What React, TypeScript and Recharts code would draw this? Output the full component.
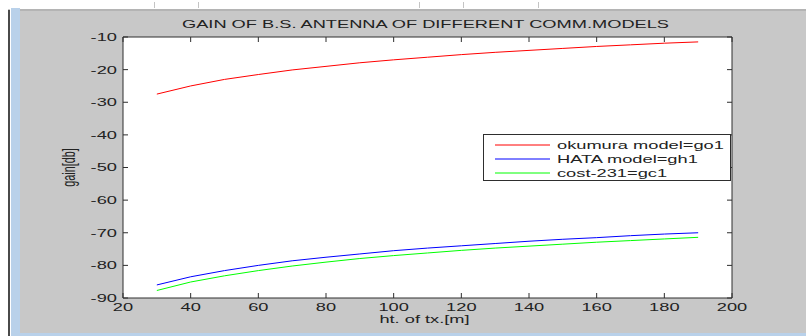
import {
  LineChart,
  Line,
  XAxis,
  YAxis,
  CartesianGrid,
  Legend,
} from 'recharts';

// transmitter height [m]
const heights = [30, 40, 50, 60, 70, 80, 90, 100, 110, 120, 130, 140, 150, 160, 170, 180, 190];
const okumura = [-27.5, -25.0, -23.0, -21.5, -20.1, -19.0, -17.9, -17.0, -16.2, -15.4, -14.7, -14.1, -13.5, -12.9, -12.4, -11.9, -11.5];
const hata = [-86.0, -83.5, -81.6, -80.0, -78.6, -77.5, -76.5, -75.5, -74.7, -74.0, -73.3, -72.6, -72.0, -71.5, -70.9, -70.4, -70.0];
const cost231 = [-87.7, -85.1, -83.2, -81.6, -80.2, -79.0, -77.9, -77.0, -76.2, -75.4, -74.7, -74.1, -73.5, -72.9, -72.4, -71.9, -71.4];

const xTicks = [20, 40, 60, 80, 100, 120, 140, 160, 180, 200];
const yTicks = [-90, -80, -70, -60, -50, -40, -30, -20, -10];

const seriesNames = ['okumura model=go1', 'HATA model=gh1', 'cost-231=gc1'];
const seriesKeys = ['go1', 'gh1', 'gc1'];
const seriesColors = ['#ff0000', '#0000ff', '#00ff00'];

const data = heights.map((h, i) => ({ h, go1: okumura[i], gh1: hata[i], gc1: cost231[i] }));

// the screenshot is stretched sideways, so text is too
const SX = 1.69;
const FS = 10.8;
const FONT = '"Liberation Sans", Arial, sans-serif';
const INK = '#222';
const AXIS = '#2e2e2e';

const XTick = (props: any) => {
  const { x, y, payload } = props;
  return (
    <text transform={`translate(${x},${y}) scale(${SX},1)`} textAnchor="middle" dy="0.71em"
      fontSize={FS} fontFamily={FONT} fill={INK}>
      {payload.value}
    </text>
  );
};

const YTick = (props: any) => {
  const { x, y, payload } = props;
  return (
    <text transform={`translate(${x},${y}) scale(${SX},1)`} textAnchor="end" dy="0.36em"
      fontSize={FS} fontFamily={FONT} fill={INK}>
      {payload.value}
    </text>
  );
};

const NoTick = () => <g />;

const TitleLabel = (props: any) => {
  const { viewBox } = props;
  const cx = viewBox.x + viewBox.width / 2 - 2;
  return (
    <text transform={`translate(${cx},${viewBox.y - 8}) scale(${SX},1)`} textAnchor="middle"
      fontSize={FS} fontFamily={FONT} fill={INK}>
      GAIN OF B.S. ANTENNA OF DIFFERENT COMM.MODELS
    </text>
  );
};

const XLabel = (props: any) => {
  const { viewBox } = props;
  const cx = viewBox.x + viewBox.width / 2 - 3;
  return (
    <text transform={`translate(${cx},${viewBox.y + 25}) scale(${SX},1)`} textAnchor="middle"
      fontSize={FS} fontFamily={FONT} fill={INK}>
      ht. of tx.[m]
    </text>
  );
};

const YLabel = (props: any) => {
  const { viewBox } = props;
  const cy = viewBox.y + viewBox.height / 2;
  return (
    <text transform={`translate(${viewBox.x + 12},${cy}) scale(${SX},1) rotate(-90)`} textAnchor="middle"
      fontSize={FS} fontFamily={FONT} fill={INK}>
      gain[db]
    </text>
  );
};

const LegendBox = () => (
  <div style={{
    position: 'relative', width: 248, height: 47, boxSizing: 'border-box',
    border: `1px solid ${AXIS}`, background: '#fff',
  }}>
    {seriesNames.map((name, i) => (
      <div key={name} style={{ position: 'absolute', left: 0, top: 3 + i * 14, height: 14, width: 246 }}>
        <svg width={70} height={14} style={{ position: 'absolute', left: 0, top: 0 }}>
          <line x1={11} x2={66} y1={7} y2={7} stroke={seriesColors[i]} strokeWidth={1} />
        </svg>
        <span style={{
          position: 'absolute', left: 73, top: 0, lineHeight: '14px', whiteSpace: 'nowrap',
          fontFamily: FONT, fontSize: FS, color: INK,
          transform: `scaleX(${SX})`, transformOrigin: 'left center',
        }}>{name}</span>
      </div>
    ))}
  </div>
);

export default function App() {
  return (
    <div style={{ position: 'fixed', left: 0, top: 0, width: 806, height: 336, background: '#c8c8c8', overflow: 'hidden' }}>
      {/* window chrome */}
      <div style={{ position: 'absolute', left: 0, top: 0, width: 806, height: 9, background: '#fff' }} />
      <div style={{ position: 'absolute', left: 20, top: 9, width: 786, height: 2, background: '#b4b4b4' }} />
      <div style={{ position: 'absolute', left: 0, top: 0, width: 8, height: 336, background: '#fff' }} />
      <div style={{ position: 'absolute', left: 8, top: 10, width: 2, height: 326, background: '#4a4a4a' }} />
      <div style={{ position: 'absolute', left: 10, top: 0, width: 1, height: 336, background: '#fff' }} />
      <div style={{ position: 'absolute', left: 11, top: 8, width: 9, height: 328, background: '#b9d1ea' }} />
      <div style={{ position: 'absolute', left: 11, top: 333, width: 795, height: 3, background: '#b9d1ea' }} />
      {[154, 198, 419, 463, 538].map((x) => (
        <div key={x} style={{ position: 'absolute', left: x, top: 2, width: 1, height: 6, background: '#c4c4c4' }} />
      ))}

      <div style={{ position: 'absolute', left: 0, top: 0 }}>
        <LineChart width={806} height={336} data={data} margin={{ top: 36, right: 73, bottom: 8, left: 63 }}>
          <CartesianGrid horizontal={false} vertical={false} fill="#fff" />
          <XAxis xAxisId="b" dataKey="h" type="number" domain={[20, 200]} ticks={xTicks} allowDataOverflow
            height={30} tickSize={-5} tickMargin={10} tick={XTick}
            axisLine={{ stroke: AXIS }} tickLine={{ stroke: AXIS }} label={XLabel} />
          <XAxis xAxisId="t" orientation="top" dataKey="h" type="number" domain={[20, 200]} ticks={xTicks}
            allowDataOverflow height={1} tickSize={-5} tick={NoTick}
            axisLine={{ stroke: AXIS }} tickLine={{ stroke: AXIS }} label={TitleLabel} />
          <YAxis yAxisId="l" type="number" domain={[-90, -10]} ticks={yTicks} allowDataOverflow
            width={60} tickSize={-5} tickMargin={11} tick={YTick}
            axisLine={{ stroke: AXIS }} tickLine={{ stroke: AXIS }} label={YLabel} />
          <YAxis yAxisId="r" orientation="right" type="number" domain={[-90, -10]} ticks={yTicks}
            allowDataOverflow width={1} tickSize={-5} tick={NoTick}
            axisLine={{ stroke: AXIS }} tickLine={{ stroke: AXIS }} />
          {seriesKeys.map((k, i) => (
            <Line key={k} xAxisId="b" yAxisId="l" type="linear" dataKey={k} name={seriesNames[i]}
              stroke={seriesColors[i]} strokeWidth={1} dot={false} isAnimationActive={false} />
          ))}
          <Legend layout="horizontal" align="center" verticalAlign="middle" content={LegendBox}
            wrapperStyle={{ left: 483, top: 134, width: 248, height: 47 }} />
        </LineChart>
      </div>
    </div>
  );
}
